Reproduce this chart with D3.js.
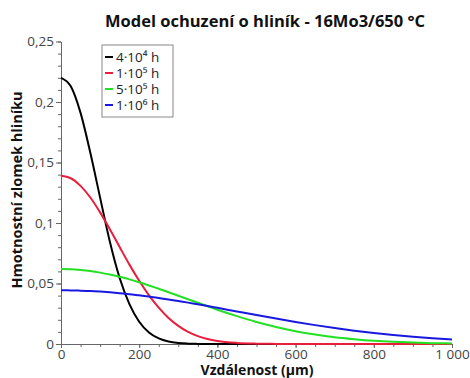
<!DOCTYPE html>
<html>
<head>
<meta charset="utf-8">
<script src="https://cdnjs.cloudflare.com/ajax/libs/d3/7.8.5/d3.min.js"></script>
<style>
  body { margin: 0; background: #fff; }
  svg { font-family: "Open Sans", "DejaVu Sans", sans-serif; }
</style>
</head>
<body>
<svg id="chart"></svg>
<script>
// distance (µm)
let xs = [0, 25, 50, 75, 100, 125, 150, 175, 200, 225, 250, 275, 300, 325, 350, 375, 400,
  450, 500, 550, 600, 650, 700, 750, 800, 850, 900, 950, 1000];

// mass fraction of Al, one array per annealing time
let black4e4 = [0.220, 0.213, 0.191, 0.158, 0.121, 0.0845, 0.0545, 0.033, 0.0184, 0.0095, 0.0046, 0.0020, 0.0008,
  0.0003, 0.0001, 0, 0, 0, 0, 0, 0, 0, 0, 0, 0, 0, 0, 0, 0];
let red1e5 = [0.139, 0.137, 0.1307, 0.1211, 0.1088, 0.0948, 0.0801, 0.0656, 0.0522, 0.0402, 0.0300, 0.0215, 0.0150,
  0.0100, 0.0065, 0.0041, 0.0025, 0.0009, 0.0003, 0.0001, 0, 0, 0, 0, 0, 0, 0, 0, 0];
let green5e5 = [0.062, 0.0618, 0.0612, 0.0603, 0.0590, 0.0574, 0.0555, 0.0534, 0.0510, 0.0484, 0.0457, 0.0428, 0.0399,
  0.0370, 0.0341, 0.0312, 0.0283, 0.0230, 0.0182, 0.0141, 0.0106, 0.0078, 0.0056, 0.0040, 0.0027, 0.0018, 0.0012, 0.0007, 0.0005];
let blue1e6 = [0.0444, 0.0443, 0.0441, 0.0438, 0.0433, 0.0427, 0.0420, 0.0412, 0.0402, 0.0392, 0.0380, 0.0368, 0.0355,
  0.0342, 0.0328, 0.0314, 0.0299, 0.0269, 0.0239, 0.0210, 0.0182, 0.0156, 0.0132, 0.0110, 0.0091, 0.0074, 0.0060, 0.0048, 0.0038];

let seriesNames = ["4·10⁴ h", "1·10⁵ h", "5·10⁵ h", "1·10⁶ h"];
let seriesColors = ["#000000", "#e81e3c", "#22e022", "#1818e0"];

let xTicks = [0, 200, 400, 600, 800, 1000];
let xTickLabels = ["0", "200", "400", "600", "800", "1 000"];
let yTicks = [0, 0.05, 0.1, 0.15, 0.2, 0.25];
let yTickLabels = ["0", "0,05", "0,1", "0,15", "0,2", "0,25"];

let W = 470, H = 378;
let margin = { top: 41.5, right: 18, bottom: 34, left: 61 };
let width = W - margin.left - margin.right;
let height = H - margin.top - margin.bottom;

let x = d3.scaleLinear().domain([0, 1000]).range([0, width]);
let y = d3.scaleLinear().domain([0, 0.25]).range([height, 0]);

let svg = d3.select("#chart")
  .attr("width", W)
  .attr("height", H);

// title
svg.append("text")
  .attr("x", 265)
  .attr("y", 27)
  .attr("text-anchor", "middle")
  .style("font-size", "16.5px")
  .style("font-weight", "bold")
  .style("fill", "#111")
  .text("Model ochuzení o hliník - 16Mo3/650 °C");

let g = svg.append("g")
  .attr("transform", "translate(" + margin.left + "," + margin.top + ")");

// minor ticks
let xMinor = d3.range(0, 1001, 50);
let yMinor = d3.range(0, 26).map(d => d / 100);

g.append("g")
  .attr("transform", "translate(0," + height + ")")
  .call(d3.axisBottom(x).tickValues(xMinor).tickSize(3).tickFormat(""))
  .call(a => a.select(".domain").remove())
  .selectAll("line").attr("stroke", "#666");

g.append("g")
  .call(d3.axisLeft(y).tickValues(yMinor).tickSize(3).tickFormat(""))
  .call(a => a.select(".domain").remove())
  .selectAll("line").attr("stroke", "#666");

// major axes
let xAxis = g.append("g")
  .attr("transform", "translate(0," + height + ")")
  .call(d3.axisBottom(x).tickValues(xTicks).tickSize(4).tickPadding(1)
    .tickFormat((d, i) => xTickLabels[i]).tickSizeOuter(0));

let yAxis = g.append("g")
  .call(d3.axisLeft(y).tickValues(yTicks).tickSize(5).tickPadding(2)
    .tickFormat((d, i) => yTickLabels[i]).tickSizeOuter(0));

[xAxis, yAxis].forEach(a => {
  a.select(".domain").attr("stroke", "#666");
  a.selectAll("line").attr("stroke", "#666");
  a.selectAll("text")
    .style("font-size", "13.5px")
    .style("fill", "#444")
    .style("font-family", "'Open Sans', 'DejaVu Sans', sans-serif");
});

// axis labels
svg.append("text")
  .attr("x", 257)
  .attr("y", 374.5)
  .attr("text-anchor", "middle")
  .style("font-size", "14px")
  .style("font-weight", "bold")
  .style("fill", "#111")
  .text("Vzdálenost (µm)");

svg.append("text")
  .attr("transform", "translate(22,190) rotate(-90)")
  .attr("text-anchor", "middle")
  .style("font-size", "14.5px")
  .style("font-weight", "bold")
  .style("fill", "#111")
  .text("Hmotnostní zlomek hliníku");

// curves
let series = [black4e4, red1e5, green5e5, blue1e6];
let line = d3.line()
  .x((d, i) => x(xs[i]))
  .y(d => y(d))
  .curve(d3.curveMonotoneX);

g.selectAll(".curve")
  .data(series)
  .enter().append("path")
  .attr("class", "curve")
  .attr("d", d => line(d))
  .attr("fill", "none")
  .attr("stroke", (d, i) => seriesColors[i])
  .attr("stroke-width", 2);

// legend
let lg = svg.append("g").attr("transform", "translate(102,45)");
lg.append("rect")
  .attr("x", 0).attr("y", 0)
  .attr("width", 71).attr("height", 72)
  .attr("fill", "#fff")
  .attr("stroke", "#888")
  .attr("stroke-width", 1);

let rows = lg.selectAll(".row")
  .data(seriesNames)
  .enter().append("g")
  .attr("class", "row")
  .attr("transform", (d, i) => "translate(0," + (12 + i * 16) + ")");

rows.append("line")
  .attr("x1", 3).attr("x2", 11)
  .attr("y1", 0).attr("y2", 0)
  .attr("stroke", (d, i) => seriesColors[i])
  .attr("stroke-width", 2);

rows.append("text")
  .attr("x", 14)
  .attr("y", 5)
  .style("font-size", "13.5px")
  .style("fill", "#222")
  .text(d => d);
</script>
</body>
</html>
